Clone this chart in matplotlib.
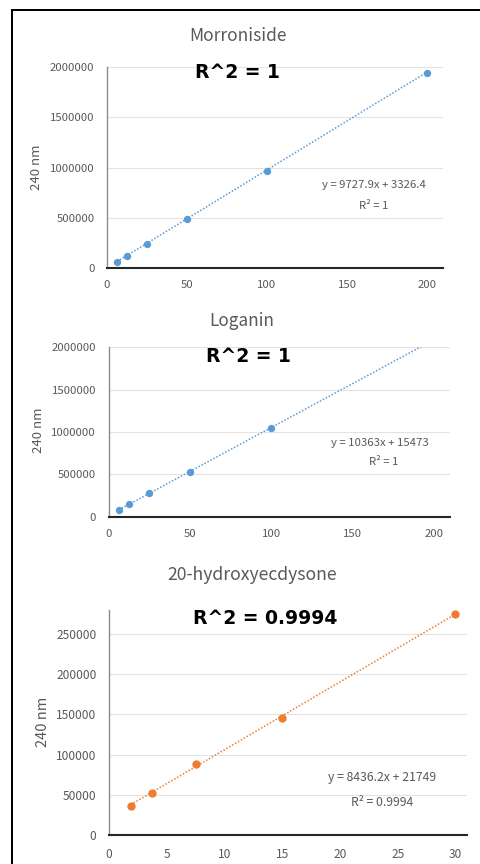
import numpy as np
import matplotlib
matplotlib.use("Agg")
import matplotlib.pyplot as plt
from matplotlib.patches import Rectangle

plt.rcParams['font.family'] = ['Noto Sans CJK KR', 'DejaVu Sans']

# ---- data ----
morr_x = [6.25, 12.5, 25, 50, 100, 200]
morr_y = [62000, 123000, 241000, 488000, 970000, 1945000]
morr_slope, morr_icpt = 9727.9, 3326.4

log_x = [6.25, 12.5, 25, 50, 100, 200]
log_y = [79000, 152000, 275000, 532000, 1050000, 2088000]
log_slope, log_icpt = 10363, 15473

hyd_x = [1.875, 3.75, 7.5, 15, 30]
hyd_y = [36500, 52000, 88000, 146000, 275000]
hyd_slope, hyd_icpt = 8436.2, 21749

titles = ["Morroniside", "Loganin", "20-hydroxyecdysone"]
eq_texts = ["y = 9727.9x + 3326.4", "y = 10363x + 15473", "y = 8436.2x + 21749"]
r2_texts = ["R² = 1", "R² = 1", "R² = 0.9994"]
big_r2 = ["R^2 = 1", "R^2 = 1", "R^2 = 0.9994"]
ylabel = "240 nm"

yticks_12 = [0, 500000, 1000000, 1500000, 2000000]
xticks_12 = [0, 50, 100, 150, 200]
yticks_3 = [0, 50000, 100000, 150000, 200000, 250000]
xticks_3 = [0, 5, 10, 15, 20, 25, 30]

BLUE = "#5B9BD5"
ORANGE = "#ED7D31"
GRAY = "#595959"

W, H = 481, 864
fig = plt.figure(figsize=(W / 100, H / 100), dpi=100)

def fx(px):
    return px / W

def fy(py):
    return 1 - py / H

# frame border (left and top edges only)
fig.add_artist(Rectangle((fx(10.5), 0), 2 / W, fy(9) - 0, transform=fig.transFigure,
                         facecolor="black", edgecolor="none", linewidth=0))
fig.add_artist(Rectangle((fx(10.5), fy(11)), 1 - fx(10.5), 2 / H, transform=fig.transFigure,
                         facecolor="black", edgecolor="none", linewidth=0))

panels = [
    dict(box=(107, 443, 67, 268), x=morr_x, y=morr_y, m=morr_slope, b=morr_icpt,
         color=BLUE, xlim=(0, 210), ylim=(0, 2000000), xt=xticks_12, yt=yticks_12,
         title_xy=(238, 36), big_xy=(237, 72), eq_xy=(374, 185), r2_xy=(374, 206),
         ylab_xy=(37, 167), tfs=12.5, tickfs=8.2, eqfs=8.2, ms=5.3, ylfs=9.5),
    dict(box=(108.5, 450, 347.3, 516.7), x=log_x, y=log_y, m=log_slope, b=log_icpt,
         color=BLUE, xlim=(0, 210), ylim=(0, 2000000), xt=xticks_12, yt=yticks_12,
         title_xy=(242, 321), big_xy=(248, 357), eq_xy=(380, 443), r2_xy=(384, 462),
         ylab_xy=(38, 430), tfs=12.3, tickfs=8.2, eqfs=8.2, ms=5.3, ylfs=9.5),
    dict(box=(109, 467, 610, 835), x=hyd_x, y=hyd_y, m=hyd_slope, b=hyd_icpt,
         color=ORANGE, xlim=(0, 31), ylim=(0, 280000), xt=xticks_3, yt=yticks_3,
         title_xy=(252, 575), big_xy=(265, 618), eq_xy=(382, 778), r2_xy=(382, 802),
         ylab_xy=(43, 722), tfs=12.7, tickfs=8.6, eqfs=8.8, ms=6.0, ylfs=10.5),
]

for i, p in enumerate(panels):
    l, r, t, btm = p["box"]
    ax = fig.add_axes([fx(l), fy(btm), (r - l) / W, (btm - t) / H])
    ax.set_xlim(*p["xlim"])
    ax.set_ylim(*p["ylim"])
    ax.set_xticks(p["xt"])
    ax.set_yticks(p["yt"])
    ax.set_xticklabels([str(v) for v in p["xt"]])
    ax.set_yticklabels([str(v) for v in p["yt"]])
    ax.tick_params(length=0, labelsize=p["tickfs"], labelcolor=GRAY, pad=9)
    ax.grid(axis="y", color="#E3E3E3", lw=0.8)
    ax.set_axisbelow(True)
    for s in ["top", "right"]:
        ax.spines[s].set_visible(False)
    ax.spines["left"].set_color("#8C8C8C")
    ax.spines["left"].set_linewidth(1.0)
    ax.spines["bottom"].set_color("#262626")
    ax.spines["bottom"].set_linewidth(1.5)
    ax.spines["left"].set_zorder(5)
    ax.spines["bottom"].set_zorder(5)

    xs = np.array([min(p["x"]), max(p["x"])])
    ax.plot(xs, p["m"] * xs + p["b"], linestyle=(0, (1, 1.2)), color=p["color"], lw=1.1)
    ax.plot(p["x"], p["y"], "o", color=p["color"], ms=p["ms"], mec="none", clip_on=True)

    fig.text(fx(p["title_xy"][0]), fy(p["title_xy"][1]), titles[i], ha="center", va="center",
             fontsize=p["tfs"], color=GRAY)
    fig.text(fx(p["big_xy"][0]), fy(p["big_xy"][1]), big_r2[i], ha="center", va="center",
             fontsize=13.5, fontweight="bold", color="black", family="DejaVu Sans")
    fig.text(fx(p["eq_xy"][0]), fy(p["eq_xy"][1]), eq_texts[i], ha="center", va="center",
             fontsize=p["eqfs"], color=GRAY)
    fig.text(fx(p["r2_xy"][0]), fy(p["r2_xy"][1]), r2_texts[i], ha="center", va="center",
             fontsize=p["eqfs"], color=GRAY)
    fig.text(fx(p["ylab_xy"][0]), fy(p["ylab_xy"][1]), ylabel, ha="center", va="center",
             rotation=90, fontsize=p["ylfs"], color=GRAY)

fig.savefig("out.png", dpi=100)
